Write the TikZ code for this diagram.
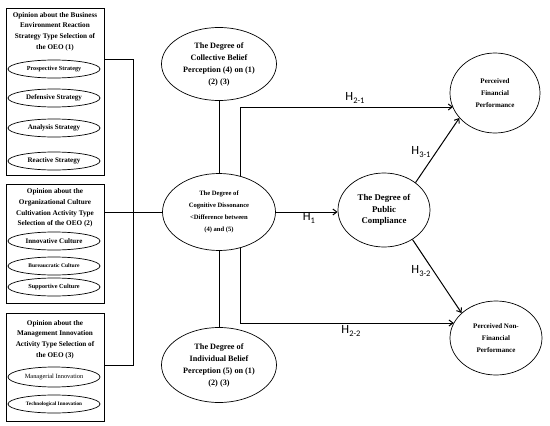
\documentclass[tikz,border=0pt]{standalone}
\usepackage{fontspec}
\setmainfont{Liberation Serif}
\newfontfamily\hfont{Carlito}
\usetikzlibrary{shapes.geometric,arrows.meta}
\newcommand\hsub[1]{\raisebox{-2.8pt}{\fontsize{8.5}{8.5}\selectfont #1}}
\begin{document}
\begin{tikzpicture}[x=1pt,y=-1pt,
  box/.style={draw, line width=0.7pt, minimum width=98pt, inner sep=0pt},
  ttl/.style={align=center, inner sep=0pt, font=\bfseries\fontsize{7.2}{10.6}\selectfont},
  oval/.style={draw, ellipse, inner sep=0pt, line width=0.7pt, align=center},
  sm/.style={oval, minimum width=92pt, minimum height=18pt},
  conn/.style={line width=1pt},
  arr/.style={conn, -{Straight Barb[length=4pt,width=6pt]}},
  hl/.style={inner sep=0pt, font=\hfont\fontsize{12.5}{12.5}\selectfont}]
\useasboundingbox (0,0) rectangle (550,426);
\fill[white] (0,0) rectangle (550,426);

% left boxes
\node[box, minimum height=167pt] (b1) at (55,91.5) {};
\node[box, minimum height=119pt] (b2) at (55,243.5) {};
\node[box, minimum height=108pt] (b3) at (55,367.5) {};

\node[ttl] (t1) at (55,31.5) {Opinion about the Business\\Environment Reaction\\Strategy Type Selection of\\the OEO (1)};
\node[sm, font=\bfseries\fontsize{6.2}{7}\selectfont] (e11) at (54,69) {Prospective Strategy};
\node[sm, font=\bfseries\fontsize{7}{8}\selectfont] (e12) at (54,98) {Defensive Strategy};
\node[sm, font=\bfseries\fontsize{7}{8}\selectfont] (e13) at (54,128) {Analysis Strategy};
\node[sm, font=\bfseries\fontsize{7}{8}\selectfont] (e14) at (54,161) {Reactive Strategy};

\node[ttl] (t2) at (55,208) {Opinion about the\\Organizational Culture\\Cultivation Activity Type\\Selection of the OEO (2)};
\node[sm, font=\bfseries\fontsize{7}{8}\selectfont] (e21) at (54,241) {Innovative Culture};
\node[sm, font=\bfseries\fontsize{5.6}{7}\selectfont] (e22) at (54,266) {Bureaucratic Culture};
\node[sm, font=\bfseries\fontsize{6.2}{7}\selectfont] (e23) at (54,287) {Supportive Culture};

\node[ttl] (t3) at (55,339.5) {Opinion about the\\Management Innovation\\Activity Type Selection of\\the OEO (3)};
\node[sm, minimum height=20pt, font=\fontsize{6.4}{7}\selectfont] (e31) at (54,377) {Managerial Innovation};
\node[sm, font=\bfseries\fontsize{5.2}{6}\selectfont] (e32) at (54,404) {Technological Innovation};

% central column
\node[oval, minimum width=115pt, minimum height=73pt, font=\bfseries\fontsize{8.2}{12}\selectfont] (coll) at (219,64) {The Degree of\\Collective Belief\\Perception (4) on (1)\\(2) (3)};
\node[oval, minimum width=113pt, minimum height=77pt, font=\bfseries\fontsize{6.6}{12}\selectfont] (cog) at (219,212) {The Degree of\\Cognitive Dissonance\\<Difference between\\(4) and (5)};
\node[oval, minimum width=115pt, minimum height=75pt, font=\bfseries\fontsize{8.2}{12}\selectfont] (ind) at (219,365) {The Degree of\\Individual Belief\\Perception (5) on (1)\\(2) (3)};

% right column
\node[oval, minimum width=92pt, minimum height=74pt, font=\bfseries\fontsize{8.8}{11.5}\selectfont] (comp) at (384,210) {The Degree of\\Public\\Compliance};
\node[oval, minimum width=90pt, minimum height=80pt, font=\bfseries\fontsize{7}{12}\selectfont] (fin) at (495,93) {Perceived\\Financial\\Performance};
\node[oval, minimum width=92pt, minimum height=74pt, font=\bfseries\fontsize{7}{12}\selectfont] (nonfin) at (496,338) {Perceived Non-\\Financial\\Performance};

% connectors
\coordinate (j1) at (133,59);
\coordinate (j3) at (133,365);
\draw[conn] (b1.east |- j1) -- (j1) -- (j3) -- (b3.east |- j3);
\draw[conn] (b2.east |- cog.west) -- (cog.west);
\draw[conn] (coll.south) -- (cog.north);
\draw[conn] (cog.south) -- (ind.north);
\coordinate (k1) at (240,107);
\coordinate (k2) at (240,323);
\draw[arr] (k1 |- cog.59.5) -- (k1) -- (k1 -| fin.200);
\draw[arr] (k2 |- cog.-59.5) -- (k2) -- (k2 -| nonfin.160);
\draw[arr] (cog.east) -- (cog.east -| comp.west);
\draw[arr] (comp.41) -- (fin.215);
\draw[arr] (comp.-46) -- (nonfin.144);

% labels
\node[hl] (h21) at (355,98) {H\hsub{2-1}};
\node[hl] (h1) at (309,218) {H\hsub{1}};
\node[hl] (h31) at (421,152) {H\hsub{3-1}};
\node[hl] (h32) at (421,271) {H\hsub{3-2}};
\node[hl] (h22) at (351,331) {H\hsub{2-2}};
\end{tikzpicture}
\end{document}
